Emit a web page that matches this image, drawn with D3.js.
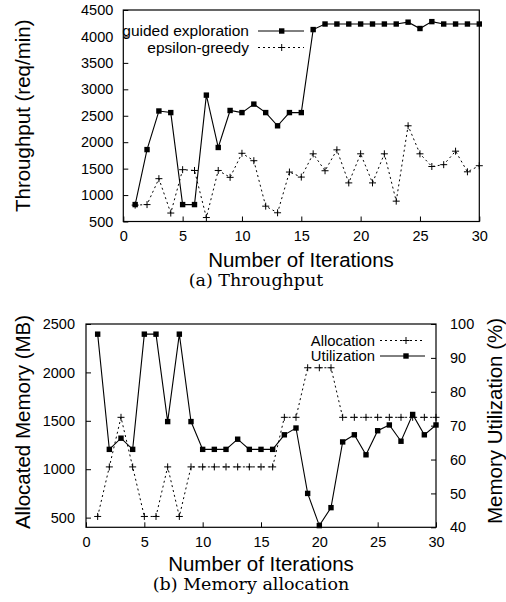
<!DOCTYPE html>
<html>
<head>
<meta charset="utf-8">
<script src="https://cdn.jsdelivr.net/npm/d3@7"></script>
<style>
  body { margin: 0; background: #fff; }
  text { font-family: "Liberation Sans", Arial, sans-serif; fill: #000; }
  .caption { font-family: "DejaVu Serif", serif; }
</style>
</head>
<body>
<svg id="CHART" width="506" height="602"></svg>
<script>
// iterations 1..30
const iterations = [1, 2, 3, 4, 5, 6, 7, 8, 9, 10, 11, 12, 13, 14, 15,
  16, 17, 18, 19, 20, 21, 22, 23, 24, 25, 26, 27, 28, 29, 30];

// (a) throughput, req/min
const guided = [820, 1860, 2590, 2560, 820, 820, 2890, 1900, 2600, 2560,
  2720, 2560, 2310, 2560, 2560, 4130, 4235, 4235, 4235, 4235,
  4235, 4235, 4235, 4270, 4150, 4280, 4235, 4235, 4235, 4235];
const epsilon = [810, 820, 1310, 660, 1480, 1465, 575, 1465, 1335, 1790,
  1650, 790, 665, 1435, 1340, 1780, 1460, 1855, 1230, 1780,
  1230, 1780, 885, 2310, 1780, 1540, 1575, 1830, 1440, 1555];

// (b) memory allocation (MB) and utilization (%)
const allocation = [512, 1024, 1536, 1024, 512, 512, 1024, 512, 1024, 1024,
  1024, 1024, 1024, 1024, 1024, 1024, 1536, 1536, 2048, 2048,
  2048, 1536, 1536, 1536, 1536, 1536, 1536, 1536, 1536, 1536];
const utilization = [97, 63, 66.3, 63, 97, 97, 71.2, 97, 71.2, 63,
  63, 63, 66, 63, 63, 63, 67.3, 69.3, 50, 40.5,
  45.8, 65.2, 67.3, 61.4, 68.5, 70.2, 65.4, 73.3, 67.3, 70.2];

const xTicks = [0, 5, 10, 15, 20, 25, 30];
const thrTicks = [500, 1000, 1500, 2000, 2500, 3000, 3500, 4000, 4500];
const memTicks = [500, 1000, 1500, 2000, 2500];
const utilTicks = [40, 50, 60, 70, 80, 90, 100];

const TICK_FONT = "14.5px";
const TITLE_FONT = "20.5px";

let svg = d3.select("#CHART");

function drawSquares(g, data, x, y) {
  g.selectAll(null).data(data).enter().append("rect")
    .attr("x", (d, i) => x(iterations[i]) - 2.7)
    .attr("y", (d) => y(d) - 2.7)
    .attr("width", 5.4)
    .attr("height", 5.4)
    .attr("fill", "#000");
}

function drawPlus(g, data, x, y) {
  g.selectAll(null).data(data).enter().append("path")
    .attr("d", (d, i) => {
      let cx = x(iterations[i]), cy = y(d);
      return "M" + (cx - 3.5) + "," + cy + "h7M" + cx + "," + (cy - 3.5) + "v7";
    })
    .attr("stroke", "#000")
    .attr("stroke-width", 1)
    .attr("fill", "none");
}

function drawLine(g, data, x, y, dashed) {
  let line = d3.line().x((d, i) => x(iterations[i])).y((d) => y(d));
  g.append("path")
    .datum(data)
    .attr("d", line)
    .attr("fill", "none")
    .attr("stroke", "#000")
    .attr("stroke-width", dashed ? 1 : 1.1)
    .attr("stroke-dasharray", dashed ? "2,3" : null);
}

function styleAxis(g) {
  g.select(".domain").remove();
  g.selectAll(".tick line").attr("stroke", "#000");
  g.selectAll(".tick text").style("font-size", TICK_FONT).attr("fill", "#000");
}

const fmt = d3.format("d");

// ---------- (a) throughput ----------
let xA = d3.scaleLinear().domain([0, 30]).range([123.3, 479.3]);
let yA = d3.scaleLinear().domain([500, 4500]).range([221.5, 10]);

let chartA = svg.append("g");

chartA.append("g")
  .attr("transform", "translate(0," + yA(500) + ")")
  .call(d3.axisBottom(xA).tickValues(xTicks).tickFormat(fmt).tickSize(-5).tickPadding(9))
  .call(styleAxis);

chartA.append("g")
  .attr("transform", "translate(" + xA(0) + ",0)")
  .call(d3.axisLeft(yA).tickValues(thrTicks).tickFormat(fmt).tickSize(-5).tickPadding(10))
  .call(styleAxis);

drawLine(chartA, epsilon, xA, yA, true);
drawPlus(chartA, epsilon, xA, yA);
drawLine(chartA, guided, xA, yA, false);
drawSquares(chartA, guided, xA, yA);

chartA.append("rect")
  .attr("x", xA(0)).attr("y", yA(4500))
  .attr("width", xA(30) - xA(0)).attr("height", yA(500) - yA(4500))
  .attr("fill", "none").attr("stroke", "#000").attr("stroke-width", 1.2);

// legend
let legA = chartA.append("g");
[["guided exploration", false], ["epsilon-greedy", true]].forEach((item, i) => {
  let ly = 31 + i * 16.5;
  legA.append("text").attr("x", 249).attr("y", ly).attr("dy", "0.35em")
    .attr("text-anchor", "end").style("font-size", "15.5px").text(item[0]);
  legA.append("line").attr("x1", 258).attr("x2", 304).attr("y1", ly).attr("y2", ly)
    .attr("stroke", "#000").attr("stroke-dasharray", item[1] ? "2,3" : null);
  if (item[1]) {
    legA.append("path").attr("d", "M278.2," + ly + "h7M281.7," + (ly - 3.5) + "v7")
      .attr("stroke", "#000");
  } else {
    legA.append("rect").attr("x", 279).attr("y", ly - 2.7).attr("width", 5.4).attr("height", 5.4);
  }
});

chartA.append("text")
  .attr("x", 301).attr("y", 266.5).attr("text-anchor", "middle")
  .style("font-size", TITLE_FONT).text("Number of Iterations");

chartA.append("text")
  .attr("transform", "translate(30," + (yA(2500)) + ") rotate(-90)")
  .attr("text-anchor", "middle").style("font-size", TITLE_FONT)
  .text("Throughput (req/min)");

chartA.append("text").attr("class", "caption")
  .attr("x", 256).attr("y", 286).attr("text-anchor", "middle")
  .style("font-size", "17.5px").text("(a) Throughput");

// ---------- (b) memory ----------
let xB = d3.scaleLinear().domain([0, 30]).range([86, 436]);
let yB = d3.scaleLinear().domain([400, 2500]).range([527.3, 324]);
let yU = d3.scaleLinear().domain([40, 100]).range([527.3, 324]);

let chartB = svg.append("g");

chartB.append("g")
  .attr("transform", "translate(0," + yB(400) + ")")
  .call(d3.axisBottom(xB).tickValues(xTicks).tickFormat(fmt).tickSize(-5).tickPadding(9))
  .call(styleAxis);

chartB.append("g")
  .attr("transform", "translate(" + xB(0) + ",0)")
  .call(d3.axisLeft(yB).tickValues(memTicks).tickFormat(fmt).tickSize(-5).tickPadding(11))
  .call(styleAxis);

chartB.append("g")
  .attr("transform", "translate(" + xB(30) + ",0)")
  .call(d3.axisRight(yU).tickValues(utilTicks).tickFormat(fmt).tickSize(-5).tickPadding(14))
  .call(styleAxis);

drawLine(chartB, allocation, xB, yB, true);
drawPlus(chartB, allocation, xB, yB);
drawLine(chartB, utilization, xB, yU, false);
drawSquares(chartB, utilization, xB, yU);

chartB.append("rect")
  .attr("x", xB(0)).attr("y", yB(2500))
  .attr("width", xB(30) - xB(0)).attr("height", yB(400) - yB(2500))
  .attr("fill", "none").attr("stroke", "#000").attr("stroke-width", 1.2);

let legB = chartB.append("g");
[["Allocation", true], ["Utilization", false]].forEach((item, i) => {
  let ly = 340.5 + i * 15.5;
  legB.append("text").attr("x", 375).attr("y", ly).attr("dy", "0.35em")
    .attr("text-anchor", "end").style("font-size", "14.8px").text(item[0]);
  legB.append("line").attr("x1", 380).attr("x2", 425).attr("y1", ly).attr("y2", ly)
    .attr("stroke", "#000").attr("stroke-dasharray", item[1] ? "2,3" : null);
  if (item[1]) {
    legB.append("path").attr("d", "M402.5," + ly + "h7M406," + (ly - 3.5) + "v7")
      .attr("stroke", "#000");
  } else {
    legB.append("rect").attr("x", 403.3).attr("y", ly - 2.7).attr("width", 5.4).attr("height", 5.4);
  }
});

chartB.append("text")
  .attr("x", 261).attr("y", 570.5).attr("text-anchor", "middle")
  .style("font-size", TITLE_FONT).text("Number of Iterations");

chartB.append("text")
  .attr("transform", "translate(30,422) rotate(-90)")
  .attr("text-anchor", "middle").style("font-size", TITLE_FONT)
  .text("Allocated Memory (MB)");

chartB.append("text")
  .attr("transform", "translate(502,421) rotate(-90)")
  .attr("text-anchor", "middle").style("font-size", TITLE_FONT)
  .text("Memory Utilization (%)");

chartB.append("text").attr("class", "caption")
  .attr("x", 251).attr("y", 590).attr("text-anchor", "middle")
  .style("font-size", "17.5px").text("(b) Memory allocation");
</script>
</body>
</html>
